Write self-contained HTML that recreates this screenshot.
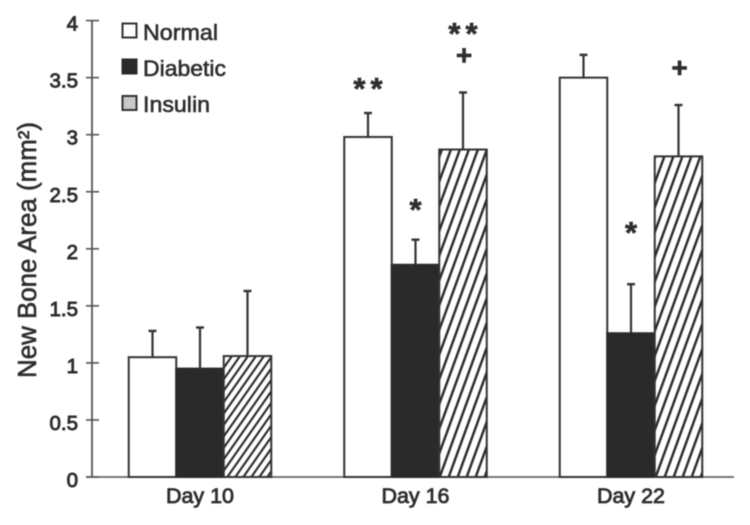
<!DOCTYPE html>
<html lang="en">
<head>
<meta charset="utf-8">
<title>New Bone Area chart</title>
<style>
html,body{margin:0;padding:0;background:#fff;width:750px;height:525px;overflow:hidden}
svg{display:block;filter:blur(0.45px)}
text{font-family:"Liberation Sans",sans-serif;fill:#2e2e2e;stroke:#2e2e2e;stroke-width:0.6px}
</style>
</head>
<body>
<svg id="chart" width="750" height="525" viewBox="0 0 750 525" xmlns="http://www.w3.org/2000/svg">
<defs>
<pattern id="hatch-tight" patternUnits="userSpaceOnUse" width="8" height="12" patternTransform="skewX(-35)">
<rect width="8" height="12" fill="#fff"/><rect width="2.6" height="12" fill="#2b2b2b"/>
</pattern>
<pattern id="hatch-steep" patternUnits="userSpaceOnUse" width="9" height="12" patternTransform="skewX(-20)">
<rect width="9" height="12" fill="#fff"/><rect width="2.6" height="12" fill="#2b2b2b"/>
</pattern>
</defs>
<text transform="translate(36,250) rotate(-90)" text-anchor="middle" font-size="25.5" textLength="256" lengthAdjust="spacingAndGlyphs">New Bone Area (mm²)</text>
<g>
<rect x="122.5" y="23.5" width="14" height="14" fill="#fff" stroke="#333" stroke-width="2"/>
<text x="143" y="40" font-size="22.5" textLength="75" lengthAdjust="spacingAndGlyphs">Normal</text>
<rect x="122.5" y="59.5" width="14" height="14" fill="#2a2a2a" stroke="#2a2a2a" stroke-width="2"/>
<text x="143" y="76" font-size="22.5" textLength="83" lengthAdjust="spacingAndGlyphs">Diabetic</text>
<rect x="122.5" y="96" width="14" height="14" fill="#c8c8c8" stroke="#333" stroke-width="2"/>
<text x="143" y="112" font-size="22.5" textLength="67" lengthAdjust="spacingAndGlyphs">Insulin</text>
</g>
<g id="plot"></g>
</svg>
<script>
const categories = ["Day 10", "Day 16", "Day 22"];
const seriesNames = ["normal", "diabetic", "insulin"];
const normalValues = [1.05, 2.98, 3.5];
const diabeticValues = [0.95, 1.86, 1.26];
const insulinValues = [1.06, 2.87, 2.81];
const normalErrors = [0.23, 0.21, 0.2];
const diabeticErrors = [0.36, 0.22, 0.43];
const insulinErrors = [0.57, 0.5, 0.45];
const yTicks = ["0", "0.5", "1", "1.5", "2", "2.5", "3", "3.5", "4"];
// significance annotations: group, series, symbol, height on the value axis
const annotationGroups = [1, 1, 1, 1, 2, 2];
const annotationSeries = [0, 1, 2, 2, 1, 2];
const annotationSymbols = ["**", "*", "**", "+", "*", "+"];
const annotationLevels = [3.44, 2.38, 3.92, 3.70, 2.18, 3.59];

const svgNS = "http://www.w3.org/2000/svg";
const plot = document.getElementById("plot");
const yBase = 477, yPerUnit = 114.1, axisX = 92, axisRight = 734;
const firstGroupCenter = 200, groupStep = 215.5, barWidth = 47.5;
const yScale = function (v) { return yBase - v * yPerUnit; };
const xScale = function (g, s) { return firstGroupCenter + g * groupStep + (s - 1) * barWidth; };

function make(tag, attrs, parent) {
  const el = document.createElementNS(svgNS, tag);
  for (const k in attrs) el.setAttribute(k, attrs[k]);
  (parent || plot).appendChild(el);
  return el;
}

const yAxis = make("line", {x1: axisX, x2: axisX, y1: yScale(4), y2: yBase, stroke: "#555", "stroke-width": 1.8});


const xAxis = make("line", {x1: 86, x2: axisRight, y1: yBase, y2: yBase, stroke: "#666", "stroke-width": 1.8});



yTicks.forEach(function (t) {
  const y = yScale(Number(t));
  const tick = make("line", {x1: 86, x2: 99, y1: y, y2: y, stroke: "#555", "stroke-width": 1.6});
  
  
  const label = make("text", {x: 78, y: y + 10, "text-anchor": "end", "font-size": 20.5, style: "stroke-width:0.9px"});
  label.textContent = t;
  
  
});

const allValues = [normalValues, diabeticValues, insulinValues];
const allErrors = [normalErrors, diabeticErrors, insulinErrors];

categories.forEach(function (cat, g) {
  const lbl = make("text", {x: firstGroupCenter + g * groupStep, y: 503, "text-anchor": "middle", "font-size": 21, textLength: 68, lengthAdjust: "spacingAndGlyphs", style: "stroke-width:0.8px"});
  lbl.textContent = cat;
  
  

  seriesNames.forEach(function (name, s) {
    const v = allValues[s][g], e = allErrors[s][g];
    const cx = xScale(g, s), top = yScale(v), errTop = yScale(v + e);
    const whisker = make("line", {x1: cx, x2: cx, y1: top, y2: errTop, stroke: "#333", "stroke-width": 2.2});
    
    
    const cap = make("line", {x1: cx - 4, x2: cx + 4, y1: errTop, y2: errTop, stroke: "#333", "stroke-width": 2.4});
    
    
    const fill = s === 0 ? "#fff" : s === 1 ? "#2a2a2a" : (g === 0 ? "url(#hatch-tight)" : "url(#hatch-steep)");
    const bar = make("rect", {x: cx - barWidth / 2, y: top, width: barWidth, height: yBase - top, fill: fill, stroke: s === 1 ? "#2a2a2a" : "#333", "stroke-width": 2});
    
    
  });
});

annotationSymbols.forEach(function (txt, i) {
  const isPlus = txt === "+";
  const isDouble = txt === "**";
  const cx = xScale(annotationGroups[i], annotationSeries[i]);
  const y = yScale(annotationLevels[i]);
  const m = make("text", {
    x: cx + (isPlus ? 1 : 0) + (isDouble ? 2.5 : 0),
    y: y + (isPlus ? 9.5 : 14.5),
    "text-anchor": "middle",
    "font-size": isPlus ? 28 : 31,
    "font-weight": "bold",
    "letter-spacing": isDouble ? 5 : 0
  });
  m.textContent = txt;
  
  
});
</script>
</body>
</html>
